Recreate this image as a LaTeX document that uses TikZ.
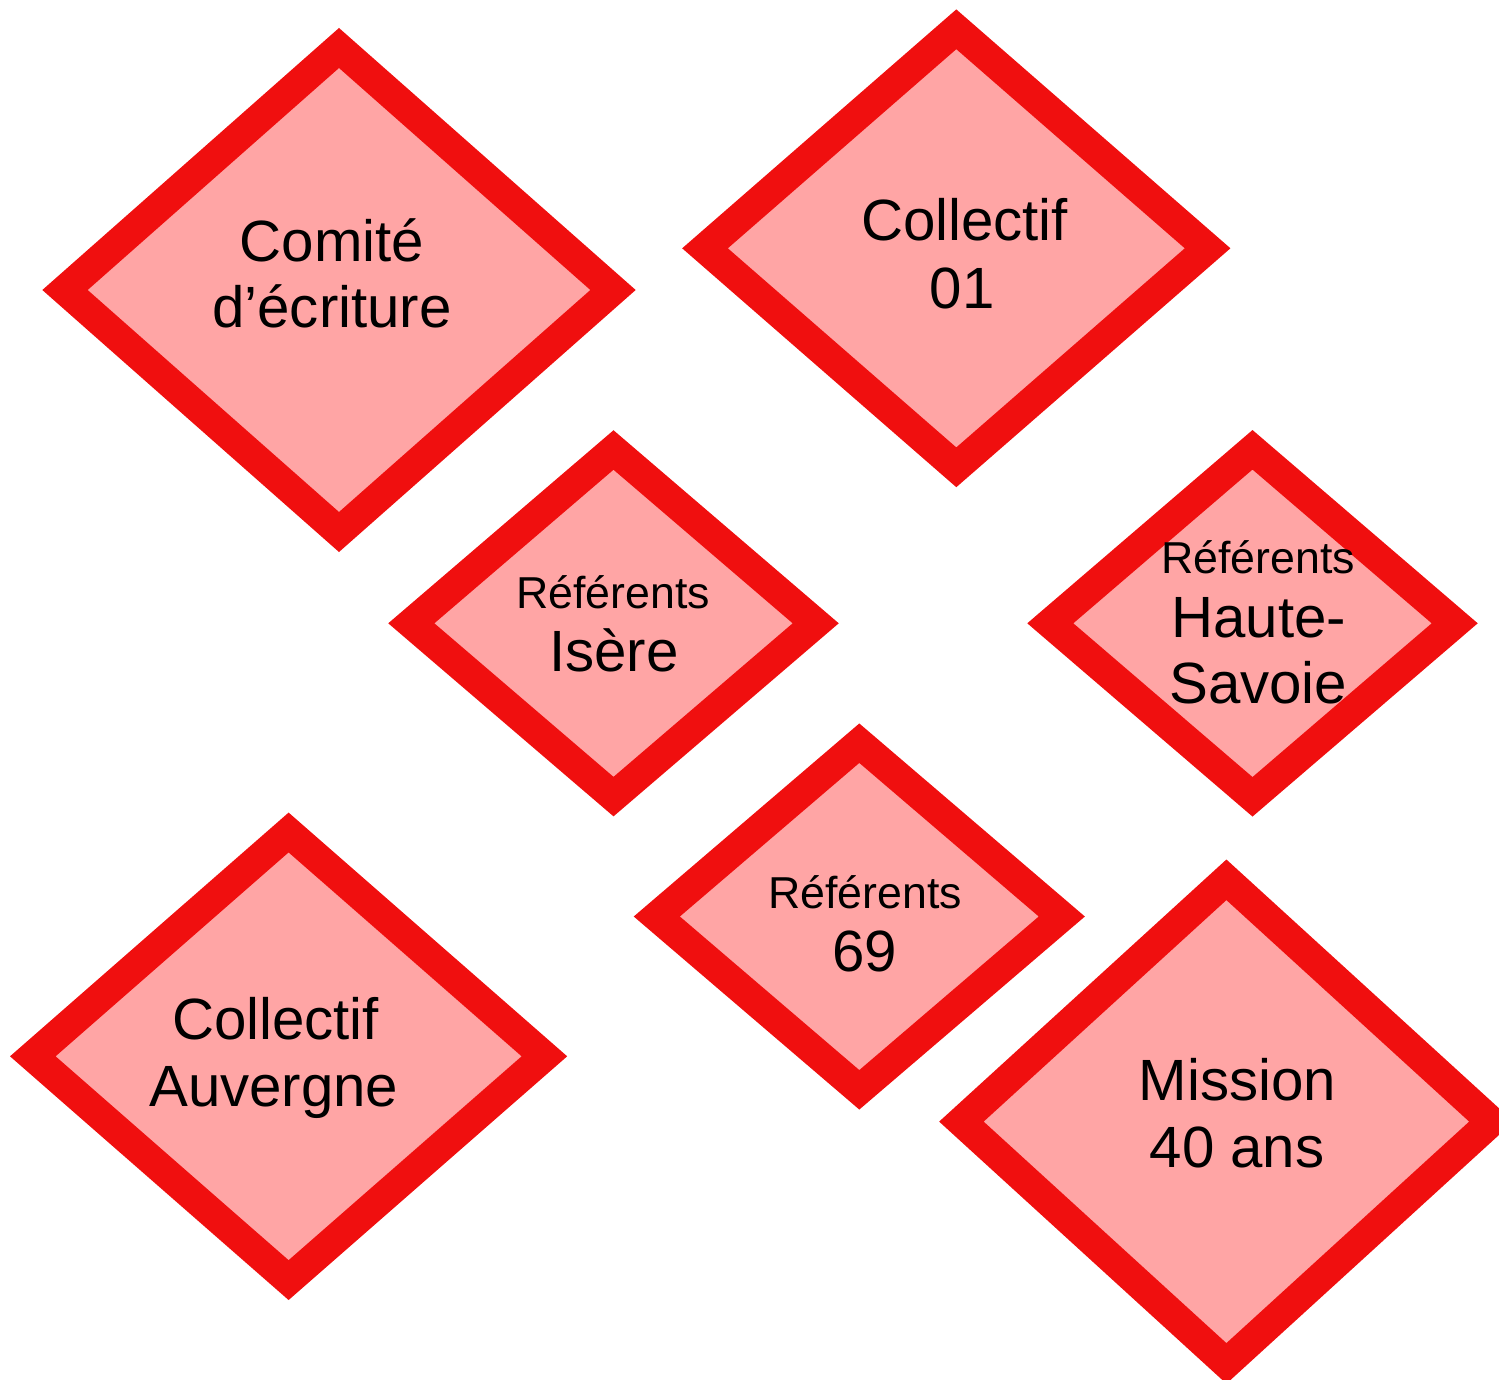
\documentclass[tikz,border=0pt]{standalone}
\usepackage{fontspec}
\setmainfont{Liberation Sans}
\usetikzlibrary{shapes.geometric}
\definecolor{dstroke}{RGB}{240,15,15}
\definecolor{dfill}{RGB}{255,165,165}
\begin{document}
\begin{tikzpicture}[x=1pt,y=-1pt,
  dia/.style={diamond, draw=dstroke, fill=dfill, line width=30pt, line join=miter,
    inner sep=0pt, outer sep=0pt},
  bigtxt/.style={anchor=base, inner sep=0pt, font=\fontsize{58.2}{66}\selectfont},
  smalltxt/.style={anchor=base, inner sep=0pt, font=\fontsize{44.7}{50}\selectfont}]
\useasboundingbox (0,0) rectangle (1499,1380);
\clip (0,0) rectangle (1499,1380);
% diamonds
\node[dia, minimum width=548pt, minimum height=484pt] (comite) at (339,290) {};
\node[dia, minimum width=502.6pt, minimum height=438pt] (coll01) at (956.3,248.3) {};
\node[dia, minimum width=404.4pt, minimum height=346.6pt] (isere) at (613.5,623.3) {};
\node[dia, minimum width=404.4pt, minimum height=347pt] (hsavoie) at (1252.5,623.3) {};
\node[dia, minimum width=405pt, minimum height=346.6pt] (ref69) at (859.3,916.5) {};
\node[dia, minimum width=511.6pt, minimum height=447.6pt] (auvergne) at (288.6,1056.3) {};
\node[dia, minimum width=530pt, minimum height=483.6pt] (mission) at (1226.4,1121.6) {};
% labels
\node[bigtxt] (comiteA) at (332,261.3) {Comité};
\node[bigtxt] (comiteB) at (332,327.6) {d’écriture};
\node[bigtxt] (coll01A) at (964.5,240.7) {Collectif};
\node[bigtxt] (coll01B) at (962,308.3) {01};
\node[smalltxt] (isereA) at (613.3,608.3) {Référents};
\node[bigtxt] (isereB) at (613.7,671.7) {Isère};
\node[smalltxt] (hsavoieA) at (1258.3,573.3) {Référents};
\node[bigtxt] (hsavoieB) at (1258.7,637.3) {Haute-};
\node[bigtxt] (hsavoieC) at (1258.3,703.3) {Savoie};
\node[smalltxt] (ref69A) at (865,908.3) {Référents};
\node[bigtxt] (ref69B) at (864.8,971.7) {69};
\node[bigtxt] (auvergneA) at (275.6,1039.3) {Collectif};
\node[bigtxt] (auvergneB) at (273.8,1106) {Auvergne};
\node[bigtxt] (missionA) at (1237.6,1100.8) {Mission};
\node[bigtxt] (missionB) at (1237,1167.8) {40 ans};
\end{tikzpicture}
\end{document}
